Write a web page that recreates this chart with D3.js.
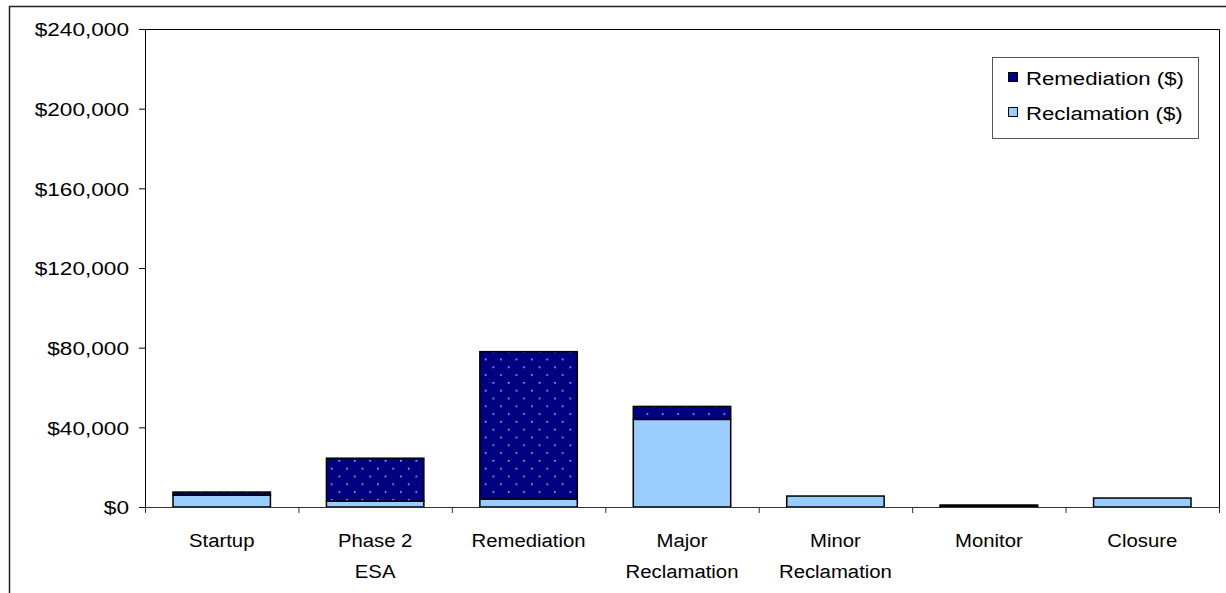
<!DOCTYPE html>
<html>
<head>
<meta charset="utf-8">
<script src="https://cdn.jsdelivr.net/npm/d3@7"></script>
<style>
  html, body { margin: 0; padding: 0; background: #fff; }
  svg { display: block; font-family: "Liberation Sans", Arial, sans-serif; }
</style>
</head>
<body>
<svg id="chart" width="1226" height="593"></svg>
<script>
// Cost per project phase, split by type
const categories = ["Startup", "Phase 2\nESA", "Remediation", "Major\nReclamation", "Minor\nReclamation", "Monitor", "Closure"];
const reclamation = [6000, 3000, 4000, 44000, 5500, 500, 4500];
const remediation = [1500, 21500, 74000, 6500, 0, 500, 0];
const seriesNames = ["Reclamation ($)", "Remediation ($)"];
const yTicks = [0, 40000, 80000, 120000, 160000, 200000, 240000];

const plot = { left: 145, right: 1219, top: 29, bottom: 507 };
const fontSize = 19;

const svg = d3.select("#chart");

// Outer chart frame (left and top edges fall inside the view)
svg.append("path")
  .attr("d", "M9.5,600V6.5H1230")
  .attr("fill", "none").attr("stroke", "#202020").attr("stroke-width", 1.5);

// Dotted fill for the remediation series
const defs = svg.append("defs");
const pat = defs.append("pattern")
  .attr("id", "dots")
  .attr("patternUnits", "userSpaceOnUse")
  .attr("width", 15.4).attr("height", 15.6)
  .attr("x", plot.left + 1).attr("y", plot.top + 2);
pat.append("rect").attr("width", 15.4).attr("height", 15.6).attr("fill", "#000080");
pat.append("rect").attr("x", 0).attr("y", 0).attr("width", 1.6).attr("height", 1.6).attr("fill", "#b4b8dc");
pat.append("rect").attr("x", 7.7).attr("y", 7.8).attr("width", 1.6).attr("height", 1.6).attr("fill", "#b4b8dc");

const x = d3.scaleBand()
  .domain(categories)
  .range([plot.left, plot.right])
  .paddingInner(0.365)
  .paddingOuter(0.1825);

const xEdges = d3.scaleLinear()
  .domain([0, categories.length])
  .range([plot.left, plot.right]);

const y = d3.scaleLinear()
  .domain([0, 240000])
  .range([plot.bottom, plot.top]);

// Plot area border (top and right)
svg.append("path")
  .attr("d", `M${plot.left},${plot.top + 0.5}H${plot.right + 0.5}V${plot.bottom}`)
  .attr("fill", "none").attr("stroke", "#000").attr("stroke-width", 1);

// Stacked data
const rows = categories.map((c, i) => ({ cat: c, rec: reclamation[i], rem: remediation[i] }));
const layers = d3.stack().keys(["rec", "rem"])(rows);
const fills = { rec: "#99ccff", rem: "url(#dots)" };

const g = svg.append("g");
layers.forEach(layer => {
  g.selectAll(null)
    .data(layer.filter(d => d[1] - d[0] > 0))
    .join("rect")
    .attr("x", d => x(d.data.cat))
    .attr("width", x.bandwidth())
    .attr("y", d => y(d[1]))
    .attr("height", d => y(d[0]) - y(d[1]))
    .attr("fill", fills[layer.key])
    .attr("stroke", "#000")
    .attr("stroke-width", 1.5);
});

// Widen text horizontally around its anchor point
function widen(sel, k) {
  sel.each(function () {
    const t = d3.select(this);
    const ax = +t.attr("x") || 0;
    t.attr("transform", `translate(${ax},0) scale(${k},1) translate(${-ax},0)`);
  });
}

// Y axis
const yAxis = svg.append("g")
  .attr("transform", `translate(${plot.left},0)`)
  .call(d3.axisLeft(y)
    .tickValues(yTicks)
    .tickSize(6)
    .tickSizeOuter(0)
    .tickPadding(10)
    .tickFormat(d => "$" + d3.format(",")(d)));
yAxis.select(".domain").attr("stroke", "#000");
yAxis.selectAll(".tick line").attr("stroke", "#000");
yAxis.selectAll(".tick text")
  .attr("font-size", fontSize)
  .attr("font-family", "Liberation Sans, Arial, sans-serif")
  .attr("fill", "#000")
  .attr("dy", "0.36em")
  .call(widen, 1.19);

// X axis: tick marks at category boundaries
const xTickAxis = svg.append("g")
  .attr("transform", `translate(0,${plot.bottom})`)
  .call(d3.axisBottom(xEdges)
    .tickValues(d3.range(categories.length + 1))
    .tickSize(6)
    .tickSizeOuter(0)
    .tickFormat(""));
xTickAxis.select(".domain").attr("stroke", "#333");
xTickAxis.selectAll(".tick line").attr("stroke", "#333");

// X axis: category labels
const xLabelAxis = svg.append("g")
  .attr("transform", `translate(0,${plot.bottom})`)
  .call(d3.axisBottom(x).tickSize(0).tickPadding(0));
xLabelAxis.select(".domain").remove();
xLabelAxis.selectAll(".tick text")
  .attr("font-size", fontSize)
  .attr("font-family", "Liberation Sans, Arial, sans-serif")
  .attr("fill", "#000")
  .attr("y", 40)
  .attr("dy", 0)
  .each(function (d) {
    const t = d3.select(this);
    t.text(null);
    d.split("\n").forEach((line, i) => {
      t.append("tspan").attr("x", 0).attr("y", 40 + i * 31).text(line);
    });
  })
  .call(widen, 1.07);

// Legend
const legend = svg.append("g");
legend.append("rect")
  .attr("x", 992.5).attr("y", 57.5)
  .attr("width", 206).attr("height", 81)
  .attr("fill", "#fff").attr("stroke", "#555").attr("stroke-width", 1);

const legendItems = [
  { name: seriesNames[1], fill: "#000080", cy: 77 },
  { name: seriesNames[0], fill: "#99ccff", cy: 112 }
];
legendItems.forEach(it => {
  legend.append("rect")
    .attr("x", 1008.5).attr("y", it.cy - 4.5)
    .attr("width", 9).attr("height", 9)
    .attr("fill", it.fill).attr("stroke", "#000").attr("stroke-width", 1);
  legend.append("text")
    .attr("x", 1026).attr("y", it.cy + 1)
    .attr("dy", "0.36em")
    .attr("font-size", fontSize)
    .attr("fill", "#000")
    .text(it.name)
    .call(widen, 1.17);
});
</script>
</body>
</html>
